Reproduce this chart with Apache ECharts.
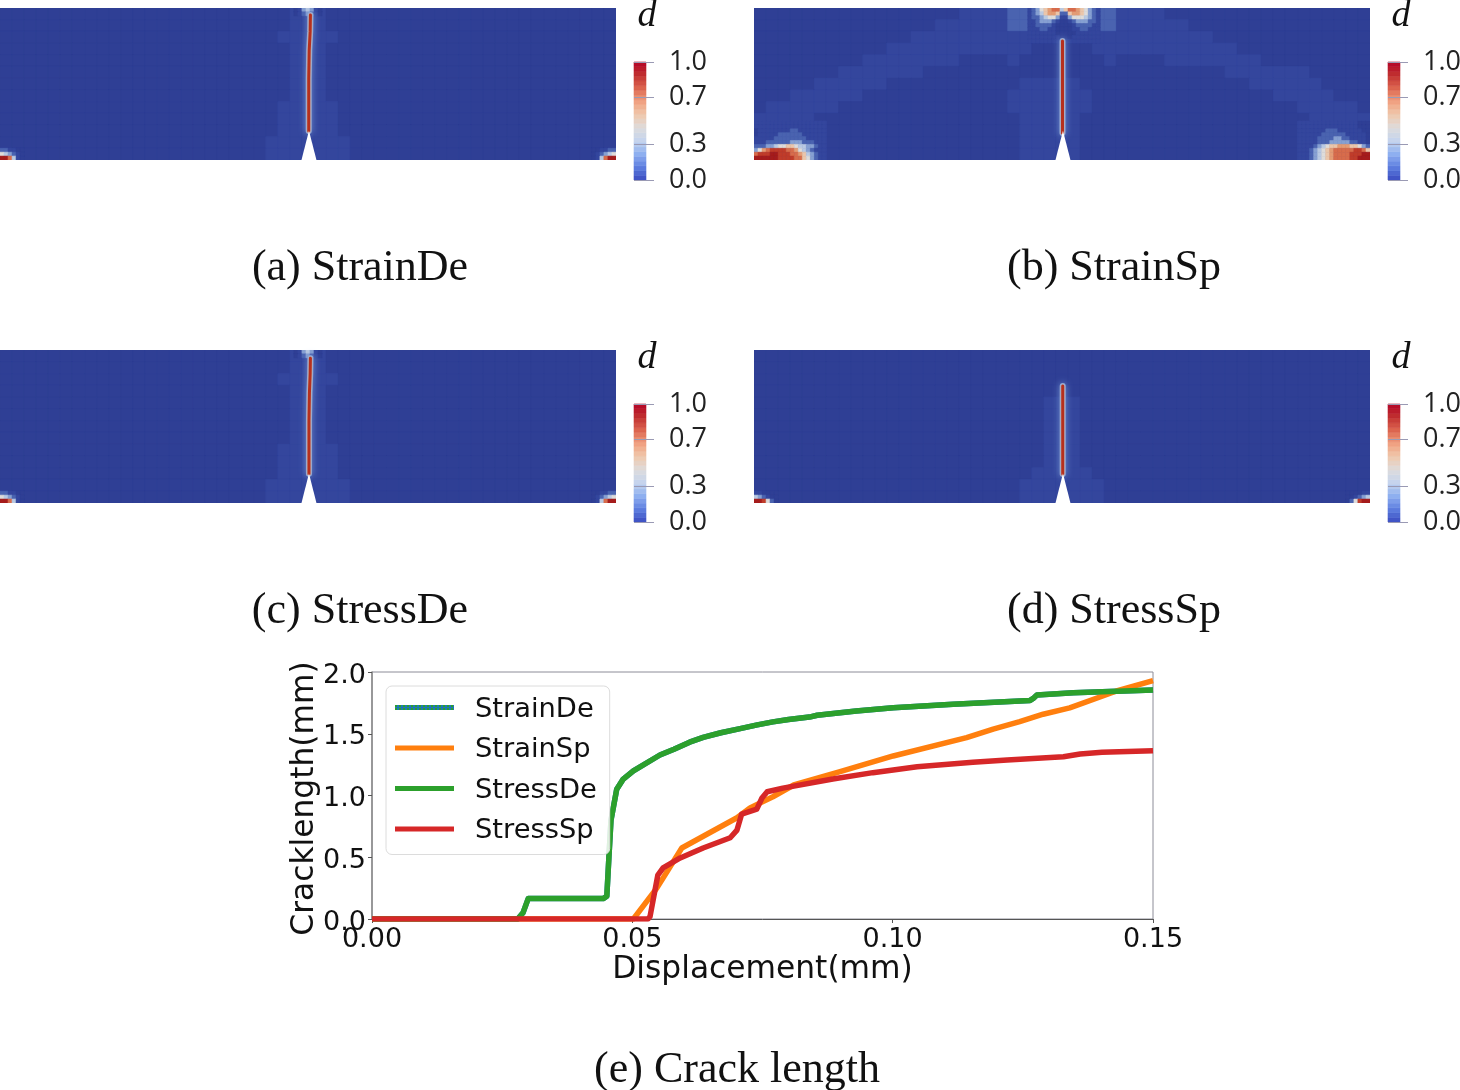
<!DOCTYPE html>
<html>
<head>
<meta charset="utf-8">
<style>html,body{margin:0;padding:0;background:#fff}#c{width:1460px;height:1090px}</style>
<script src="https://cdn.jsdelivr.net/npm/echarts@6/dist/echarts.min.js"></script>
</head>
<body>
<div id="c"></div>
<script>
// ---------- crack-length curves: [displacement mm, crack length mm] ----------
var stressDeCurve = [[0,0],[0.0280,0],[0.0290,0.05],[0.0300,0.165],[0.0444,0.165],[0.0451,0.185],[0.0455,0.5],[0.0459,0.8],[0.0470,1.05],[0.0482,1.13],[0.0502,1.2],[0.0553,1.328],[0.0580,1.375],[0.0610,1.432],[0.0636,1.47],[0.0670,1.508],[0.0707,1.542],[0.0740,1.572],[0.0770,1.596],[0.0800,1.615],[0.0840,1.635],[0.0855,1.65],[0.0930,1.684],[0.1001,1.711],[0.1116,1.738],[0.1264,1.77],[0.1270,1.786],[0.1277,1.813],[0.1347,1.832],[0.15,1.854]];
var strainDeCurve = [[0,0],[0.0280,0],[0.0290,0.05],[0.0300,0.165],[0.0444,0.165],[0.0451,0.185],[0.0455,0.5],[0.0459,0.8],[0.0470,1.05],[0.0482,1.13],[0.0502,1.2],[0.0553,1.328],[0.0580,1.375],[0.0610,1.432],[0.0636,1.47],[0.0670,1.508],[0.0707,1.542],[0.0740,1.572],[0.0770,1.596],[0.0800,1.615],[0.0840,1.635],[0.0855,1.65],[0.0930,1.684],[0.1001,1.711],[0.1116,1.738],[0.1264,1.77],[0.1270,1.786],[0.1277,1.813],[0.1347,1.832],[0.15,1.854]];
var strainSpCurve = [[0,0],[0.0502,0],[0.0547,0.25],[0.0595,0.575],[0.0701,0.82],[0.0726,0.9],[0.0770,0.99],[0.0810,1.085],[0.0899,1.193],[0.1001,1.32],[0.1142,1.468],[0.1193,1.538],[0.1244,1.598],[0.1289,1.658],[0.1340,1.71],[0.1430,1.846],[0.15,1.93]];
var stressSpCurve = [[0,0],[0.0530,0],[0.0534,0.02],[0.0549,0.356],[0.0559,0.413],[0.0592,0.494],[0.0636,0.575],[0.0688,0.658],[0.0701,0.72],[0.0710,0.85],[0.0739,0.89],[0.0749,0.98],[0.0759,1.03],[0.0789,1.06],[0.0885,1.134],[0.0962,1.185],[0.1047,1.233],[0.1154,1.27],[0.1220,1.288],[0.1328,1.314],[0.1360,1.336],[0.1402,1.35],[0.15,1.363]];
var curveNames = ['StrainDe','StrainSp','StressDe','StressSp'];

// ---------- damage field d, one digit per cell (0..9 = tenths, X = 1.0), top row first ----------
var fieldA = [
"000000000000000000000000111000000000000000000000000",
"000000000000000000000000111000000000000000000000000",
"000000000000000000000001111100000000000000000000000",
"000000000000000000000000111000000000000000000000000",
"000000000000000000000000111000000000000000000000000",
"000000000000000000000000111000000000000000000000000",
"000000000000000000000000111000000000000000000000000",
"000000000000000000000000111000000000000000000000000",
"000000000000000000000001111100000000000000000000000",
"000000000000000000000001111100000000000000000000000",
"000000000000000000000001111100000000000000000000000",
"000000000000000000000011111110000000000000000000000",
"100000000000000000000011111110000000000000000000001"];
var fieldB = [
"000000000000000001111222222222111100000000000000000",
"000000000000000111111222111222111111000000000000000",
"000000000000011111111110000011111111110000000000000",
"000000000001111111111110000011111111111100000000000",
"000000000111111110000100000001000011111111000000000",
"000000011111110000000000000000000000000111111100000",
"000001111110000000000011111000000000000001111110000",
"000111111000000000000111111100000000000000011111000",
"011111100000000000000111111100000000000000000111110",
"111110000000000000000011111000000000000000000011111",
"111100000000000000000011111000000000000000000001111",
"111000000000000000000011111000000000000000000000111",
"110000000000000000000011111000000000000000000000011"];
var fieldC = [
"000000000000000000000000111000000000000000000000000",
"000000000000000000000000111000000000000000000000000",
"000000000000000000000001111100000000000000000000000",
"000000000000000000000000111000000000000000000000000",
"000000000000000000000000111000000000000000000000000",
"000000000000000000000000111000000000000000000000000",
"000000000000000000000000111000000000000000000000000",
"000000000000000000000000111000000000000000000000000",
"000000000000000000000001111100000000000000000000000",
"000000000000000000000001111100000000000000000000000",
"000000000000000000000001111100000000000000000000000",
"000000000000000000000011111110000000000000000000000",
"100000000000000000000011111110000000000000000000001"];
var fieldD = [
"000000000000000000000000000000000000000000000000000",
"000000000000000000000000000000000000000000000000000",
"000000000000000000000000000000000000000000000000000",
"000000000000000000000000000000000000000000000000000",
"000000000000000000000000111000000000000000000000000",
"000000000000000000000000111000000000000000000000000",
"000000000000000000000000111000000000000000000000000",
"000000000000000000000000111000000000000000000000000",
"000000000000000000000000111000000000000000000000000",
"000000000000000000000000111000000000000000000000000",
"000000000000000000000001111100000000000000000000000",
"000000000000000000000011111110000000000000000000000",
"100000000000000000000011111110000000000000000000001"];

// finer patches of the same field (cells a third of the size)
var hotSpLeft = ["111111111111111111","111111111111111111","011111111221111111","011111222222111111","111112222222211111","111222222333222111","222334556654433211","357899998875432111","8999XX999887643211","XXXXXX999988653211"];
var hotSpRight = ["111111111111111000","111111111111111000","111111122211111100","111111222222111110","111112222332211110","111112223333322110","111123456677766532","111234567888889986","1112345678888999XX","111234567888899XXX"];
var hotSpTop = ["123567884688765321","123467762267765321","122345531135554321","112333210012333221","112222100001222211","111221100001122111","111111100000111111","111111110001111111","111111111111111111"];
var cornerDeLeft = ["221100","543210","XX8410"];
var cornerDeRight = ["001122","012345","0148XX"];
var cornerSpLeft = ["110000","432100","XX9520"];
var cornerSpRight = ["000011","001234","0259XX"];
var tipDeTop = ["0134310","0123210"];

// crack paths (cell units) and the white notch
var crackA = [[25.56,2.48],[25.56,7.0],[25.6,9.4],[25.68,11.0],[25.7,12.4]];
var crackB = [[25.54,2.3],[25.54,6.0],[25.54,10.17]];
var crackC = [[25.58,2.48],[25.58,7.0],[25.62,9.4],[25.68,11.0],[25.7,12.3]];
var crackD = [[25.56,2.47],[25.56,6.0],[25.56,9.95]];
var notchShape = [[24.96,0],[25.58,2.5],[26.2,0]];

// colour bar steps and labels
var barSteps = [0,0.04,0.08,0.12,0.16,0.2,0.24,0.28,0.32,0.36,0.4,0.44,0.48,0.52,0.56,0.6,0.64,0.68,0.72,0.76,0.8,0.84,0.88,0.92,0.96];
var barTicks = [0,0.3,0.7,1.0];
var panelTitles = ['(a) StrainDe','(b) StrainSp','(c) StressDe','(d) StressSp'];
var lastTitle = '(e) Crack length';

var panels = [
  {name:'StrainDe',left:0,top:8,h:152,field:fieldA,crack:crackA,patches:[[0,1,cornerDeLeft],[49,1,cornerDeRight],[24.33,13,tipDeTop]],capX:360,capY:246},
  {name:'StrainSp',left:754,top:8,h:152,field:fieldB,crack:crackB,patches:[[0,10/3,hotSpLeft],[45,10/3,hotSpRight],[22.667,13,hotSpTop]],capX:1114,capY:246},
  {name:'StressDe',left:0,top:350,h:153,field:fieldC,crack:crackC,patches:[[0,1,cornerDeLeft],[49,1,cornerDeRight],[24.33,13,tipDeTop]],capX:360,capY:589},
  {name:'StressSp',left:754,top:350,h:153,field:fieldD,crack:crackD,patches:[[0,1,cornerSpLeft],[49,1,cornerSpRight]],capX:1114,capY:589}
];

function level(ch){ return ch==='X' ? 1 : Number(ch)/10; }
function cellsOf(p){
  var out=[];
  p.field.forEach(function(r,i){ for(var j=0;j<r.length;j++) out.push([j,12-i,1,1,level(r[j])]); });
  p.patches.forEach(function(q){
    q[2].forEach(function(r,i){ for(var j=0;j<r.length;j++) out.push([q[0]+j/3,q[1]-(i+1)/3,1/3,1/3,level(r[j])]); });
  });
  return out;
}
function renderCell(params,api){
  var a=api.coord([api.value(0),api.value(1)+api.value(3)]);
  var b=api.coord([api.value(0)+api.value(2),api.value(1)]);
  var c=api.visual('color');
  return {type:'rect',shape:{x:a[0],y:a[1],width:b[0]-a[0],height:b[1]-a[1]},style:{fill:c,stroke:c,lineWidth:0.6}};
}

var grids=[],xs=[],ys=[],series=[],titles=[],cellIdx=[],barIdx=[];
panels.forEach(function(p,k){
  var g=grids.length;
  grids.push({left:p.left,top:p.top,width:616,height:p.h,show:true,backgroundColor:'#2f3f95',borderWidth:0,outerBoundsMode:'none'});
  xs.push({type:'value',gridIndex:g,min:0,max:51,show:false});
  ys.push({type:'value',gridIndex:g,min:0,max:13,show:false});
  cellIdx.push(series.length);
  series.push({name:p.name+' field',type:'custom',xAxisIndex:g,yAxisIndex:g,renderItem:renderCell,data:cellsOf(p),encode:{x:0,y:1},clip:true,silent:true,animation:false,z:2});
  series.push({name:p.name+' halo',type:'line',xAxisIndex:g,yAxisIndex:g,data:p.crack,symbol:'none',silent:true,z:3,animation:false,
    lineStyle:{color:'#8fa9d8',width:6,cap:'round',shadowColor:'#6f8fd0',shadowBlur:7}});
  series.push({name:p.name+' crack',type:'line',xAxisIndex:g,yAxisIndex:g,data:p.crack,symbol:'none',silent:true,z:4,animation:false,
    lineStyle:{color:'#b5301e',width:3,cap:'round',shadowColor:'#e8b08c',shadowBlur:2}});
  series.push({name:p.name+' notch',type:'line',xAxisIndex:g,yAxisIndex:g,data:notchShape,symbol:'none',silent:true,z:5,animation:false,
    lineStyle:{width:0},areaStyle:{color:'#ffffff',opacity:1,origin:'start'}});

  var gb=grids.length, barLeft=p.left+634;
  grids.push({left:barLeft,top:p.top+54,width:5,height:118,outerBoundsMode:'none'});
  xs.push({type:'value',gridIndex:gb,min:0,max:5,show:false});
  ys.push({type:'value',gridIndex:gb,min:0,max:1,position:'right',z:10,splitLine:{show:false},
    axisLine:{show:false},
    axisTick:{show:true,inside:false,length:20,customValues:barTicks,lineStyle:{color:'#9a9ab4',width:1}},
    axisLabel:{show:true,customValues:barTicks,margin:30,color:'#222',fontFamily:'"Open Sans"',fontSize:27,formatter:function(v){return v.toFixed(1);}}});
  barIdx.push(series.length);
  series.push({name:p.name+' bar',type:'custom',xAxisIndex:gb,yAxisIndex:gb,renderItem:renderCell,animation:false,silent:true,z:2,clip:false,encode:{x:0,y:1},
    data:barSteps.map(function(v){return [0,v,12,0.04,v+0.02];})});

  titles.push({text:'d',left:p.left+647,top:p.top-11,padding:0,textAlign:'center',textStyle:{fontFamily:'"Liberation Serif"',fontStyle:'italic',fontWeight:'normal',fontSize:38,color:'#111'}});
  titles.push({text:panelTitles[k],left:p.capX,top:p.capY,padding:0,textAlign:'center',textStyle:{fontFamily:'"Liberation Serif"',fontWeight:'normal',fontSize:44,color:'#111'}});
});
titles.push({text:lastTitle,left:737,top:1048,padding:0,textAlign:'center',textStyle:{fontFamily:'"Liberation Serif"',fontWeight:'normal',fontSize:44,color:'#111'}});

// crack-length plot
var gl=grids.length;
grids.push({left:372,top:672,width:781,height:247,show:true,borderColor:'#8c8c98',borderWidth:1,backgroundColor:'#fff',outerBoundsMode:'none'});
xs.push({type:'value',gridIndex:gl,min:0,max:0.15,interval:0.05,name:'Displacement(mm)',nameLocation:'middle',nameGap:35,nameMoveOverlap:false,
  nameTextStyle:{fontFamily:'"DejaVu Sans"',fontSize:31.3,color:'#111'},
  axisLine:{show:true,onZero:false,lineStyle:{color:'#555',width:1}},axisTick:{show:true,length:4,lineStyle:{color:'#555'}},splitLine:{show:false},
  axisLabel:{margin:7,fontFamily:'"DejaVu Sans"',fontSize:27,color:'#111',showMinLabel:true,showMaxLabel:true,hideOverlap:false,formatter:function(v){return v.toFixed(2);}}});
ys.push({type:'value',gridIndex:gl,min:0,max:2,interval:0.5,name:'Cracklength(mm)',nameLocation:'middle',nameGap:52,nameMoveOverlap:false,
  nameTextStyle:{fontFamily:'"DejaVu Sans"',fontSize:31.3,color:'#111',padding:[0,6,0,0]},
  axisLine:{show:true,lineStyle:{color:'#888',width:1.5}},axisTick:{show:true,length:4,lineStyle:{color:'#555'}},splitLine:{show:false},
  axisLabel:{margin:6,verticalAlign:'top',lineHeight:7,fontFamily:'"DejaVu Sans"',fontSize:27,color:'#111',showMinLabel:true,showMaxLabel:true,hideOverlap:false,formatter:function(v){return v.toFixed(1);}}});
var curveData=[strainDeCurve,strainSpCurve,stressDeCurve,stressSpCurve];
var curveColors=['#1f77b4','#ff7f0e','#2ca02c','#d62728'];
curveNames.forEach(function(n,i){
  series.push({name:n,type:'line',xAxisIndex:gl,yAxisIndex:gl,data:curveData[i],symbol:'none',showSymbol:false,animation:false,silent:true,z:5+i,clip:true,
    itemStyle:{color:curveColors[i]},lineStyle:{color:curveColors[i],width:5.5,join:'round'}});
});

var chart=echarts.init(document.getElementById('c'),null,{renderer:'canvas'});
chart.setOption({
  animation:false,
  backgroundColor:'#ffffff',
  title:titles,
  grid:grids,xAxis:xs,yAxis:ys,
  visualMap:[
    {show:false,type:'continuous',min:0,max:1,dimension:4,seriesIndex:cellIdx,
     inRange:{color:['#2f3f95','#34469d','#4a63b0','#86a0d2','#b9c9e2','#dedcda','#ebc6aa','#e49c74','#d76c4c','#c03c2a','#a51c1c']}},
    {show:false,type:'continuous',min:0,max:1,dimension:4,seriesIndex:barIdx,
     inRange:{color:['#3b4cc0','#5f7fe0','#8fb0f0','#c4d4ee','#dddcdc','#f0c8ac','#f0a080','#dd6650','#c03030','#b40426']}}
  ],
  legend:{
    show:true,orient:'vertical',left:386,top:686,
    data:[{name:'StrainDe',itemStyle:{color:'#1f77b4',decal:{symbol:'rect',symbolSize:1,color:'#2ca02c',dashArrayX:[2,2],dashArrayY:[2,1],rotation:0}}},'StrainSp','StressDe','StressSp'],
    icon:'rect',itemWidth:59,itemHeight:5,itemGap:9.5,
    padding:[6,13,10,9],backgroundColor:'rgba(255,255,255,0.85)',borderColor:'#dcdcdc',borderWidth:1,borderRadius:6,
    selectedMode:false,z:20,
    formatter:'{t|{name}}',
    textStyle:{fontFamily:'"DejaVu Sans"',fontSize:27.3,color:'#111',padding:[0,0,0,16],
      rich:{t:{fontFamily:'"DejaVu Sans"',fontSize:27.3,color:'#111',lineHeight:27,padding:[4,0,0,0]}}}
  },
  series:series
});
</script>
</body>
</html>
